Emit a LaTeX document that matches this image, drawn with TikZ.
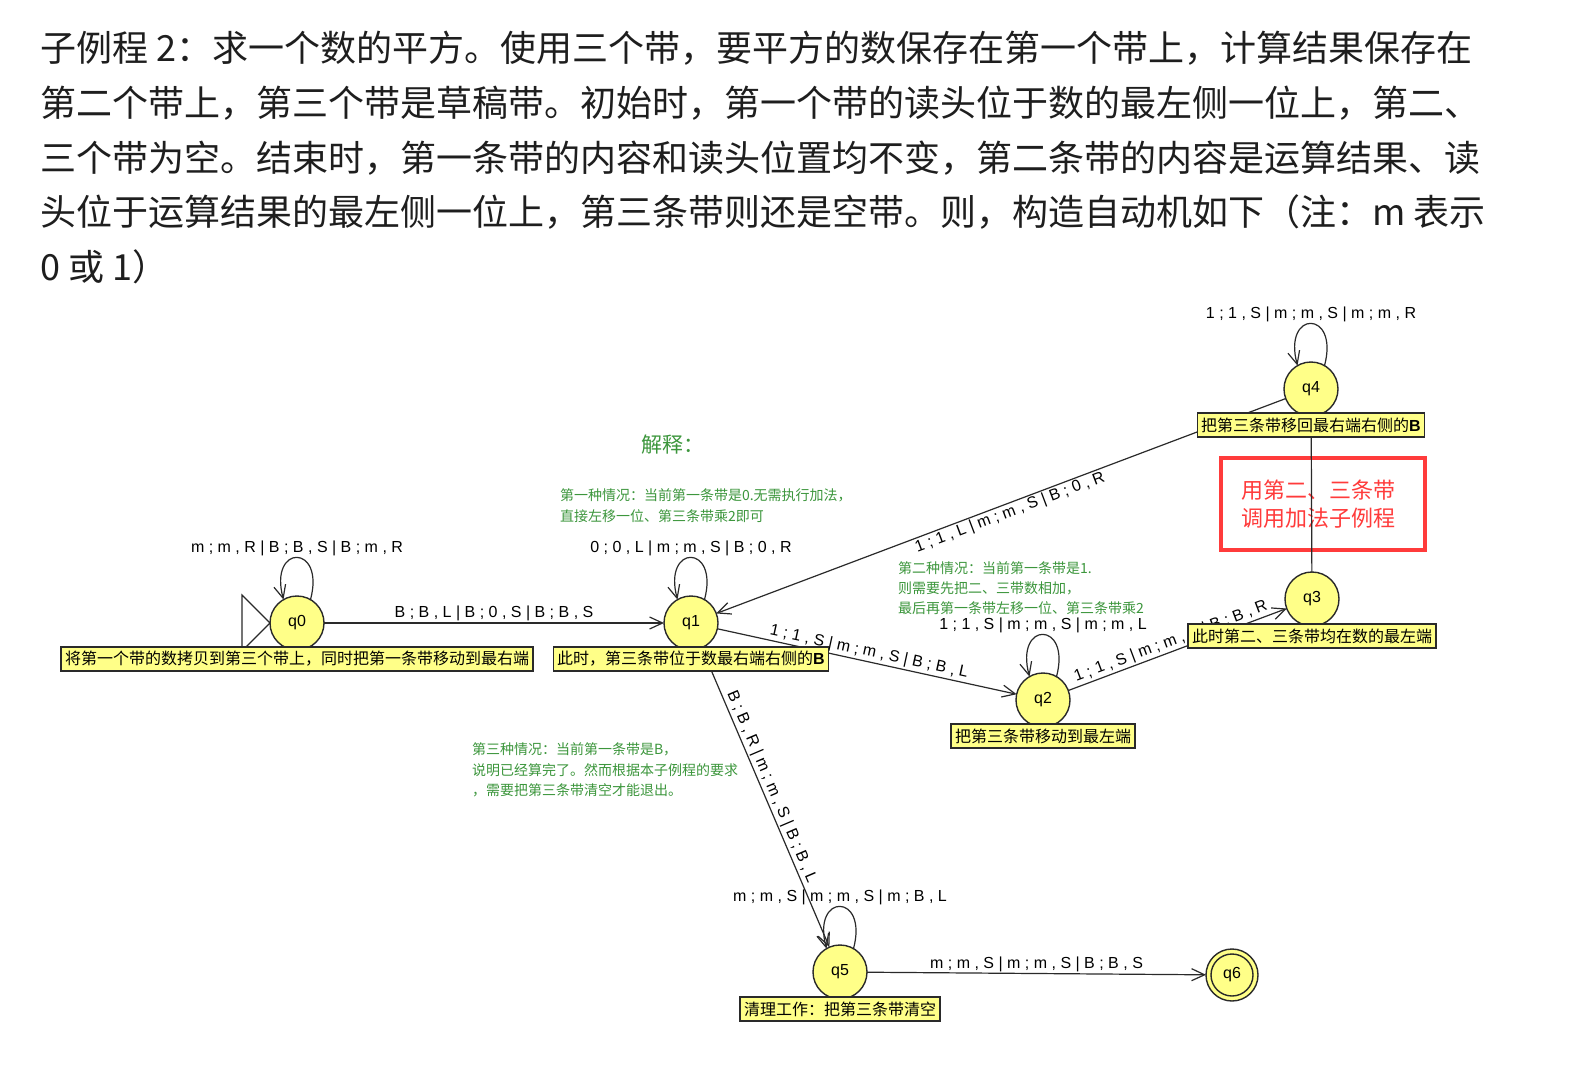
\documentclass[tikz,border=0pt]{standalone}
\usepackage{fontspec}
\usetikzlibrary{arrows.meta}
\setmainfont{Noto Sans CJK SC}
\newfontfamily\lat{Liberation Sans}
\definecolor{statefill}{HTML}{FFFF88}
\definecolor{edgecol}{HTML}{2A2A2A}
\definecolor{notegreen}{HTML}{3C963C}
\definecolor{alertred}{HTML}{FF3B3B}
\definecolor{bodytext}{HTML}{1E1E1E}
\newcommand{\fs}[1]{\fontsize{#1}{#1}\selectfont}
\newcommand{\bB}{{\lat\bfseries B}}
\begin{document}
\begin{tikzpicture}[x=1pt,y=-1pt,
  every node/.style={inner sep=0pt, outer sep=0pt},
  state/.style={circle, draw=edgecol, line width=1.4pt, fill=statefill,
    minimum size=54pt, font=\lat\fs{16}},
  tag/.style={draw=edgecol, line width=1.2pt, fill=statefill, inner xsep=4pt,
    minimum height=24pt, font=\fs{16}, anchor=north},
  trans/.style={draw=edgecol, line width=1.2pt,
    -{Straight Barb[length=13pt,width=12pt]}},
  elabel/.style={font=\lat\fs{16}, inner sep=2pt},
  note/.style={font=\fs{14}, text=notegreen, anchor=base west},
  para/.style={font=\fs{36}, text=bodytext, anchor=base west},
]
\useasboundingbox[fill=white] (0,0) rectangle (1573,1073);

% problem statement
\node[para] (p1) at (40,62)    {子例程 2：求一个数的平方。使用三个带，要平方的数保存在第一个带上，计算结果保存在};
\node[para] (p2) at (40,116.5) {第二个带上，第三个带是草稿带。初始时，第一个带的读头位于数的最左侧一位上，第二、};
\node[para] (p3) at (40,171)   {三个带为空。结束时，第一条带的内容和读头位置均不变，第二条带的内容是运算结果、读};
\node[para] (p4) at (40,225.5) {头位于运算结果的最左侧一位上，第三条带则还是空带。则，构造自动机如下（注：m 表示};
\node[para] (p5) at (40,280)   {0 或 1）};

% explanations
\node[font=\fs{21}, text=notegreen, anchor=west] (expl) at (641,445) {解释：};
\node[note] (c1a) at (560,500) {第一种情况：当前第一条带是0.无需执行加法，};
\node[note] (c1b) at (560,521) {直接左移一位、第三条带乘2即可};
\node[note] (c2a) at (898,573) {第二种情况：当前第一条带是1.};
\node[note] (c2b) at (898,593) {则需要先把二、三带数相加，};
\node[note] (c2c) at (898,613) {最后再第一条带左移一位、第三条带乘2};
\node[note] (c3a) at (472,754) {第三种情况：当前第一条带是B，};
\node[note] (c3b) at (472,775) {说明已经算完了。然而根据本子例程的要求};
\node[note] (c3c) at (472,795) {，需要把第三条带清空才能退出。};

% call of the addition routine
\draw[alertred, line width=4.5pt] (1221,458) rectangle (1425,550);
\node[font=\fontsize{22}{28}\selectfont, text=alertred, align=center] (addnote) at (1318,504)
  {用第二、三条带\\调用加法子例程};

% states
\node[state] (q0) at (297,623) {q0};
\node[state] (q1) at (691,623) {q1};
\node[state] (q2) at (1043,700) {q2};
\node[state] (q3) at (1312,599) {q3};
\node[state] (q4) at (1311,389) {q4};
\node[state] (q5) at (840,972) {q5};
\node[state, minimum size=52pt] (q6) at (1232,975) {q6};
\draw[edgecol, line width=1.4pt] (q6.center) circle (21pt);

% start marker
\draw[edgecol, line width=1.2pt] (242,595) -- (q0.west) -- (242,651) -- cycle;

% transitions
\draw[trans] (q0) -- node[elabel, above, pos=0.5] (e01) {B ; B , L | B ; 0 , S | B ; B , S} (q1);
\draw[trans] (q4) -- node[elabel, below, sloped, pos=0.49] (e41) {1 ; 1 , L | m ; m , S | B ; 0 , R} (q1);
\draw[trans] (q1) -- node[elabel, above, sloped, pos=0.5] (e12) {1 ; 1 , S | m ; m , S | B ; B , L} (q2);
\draw[trans] (q2) -- node[elabel, above, sloped, pos=0.485] (e23) {1 ; 1 , S | m ; m , S | B ; B , R} (q3);
\draw[trans] (q3) -- (q4);
\draw[trans] (q1) -- node[elabel, above, sloped, pos=0.478] (e15) {B ; B , R | m ; m , S | B ; B , L} (q5);
\draw[trans] (q5) -- node[elabel, above, pos=0.5] (e56) {m ; m , S | m ; m , S | B ; B , S} (q6);

% self loops
\foreach \q/\txt in {q0/{m ; m , R | B ; B , S | B ; m , R},
                     q1/{0 ; 0 , L | m ; m , S | B ; 0 , R},
                     q2/{1 ; 1 , S | m ; m , S | m ; m , L},
                     q4/{1 ; 1 , S | m ; m , S | m ; m , R},
                     q5/{m ; m , S | m ; m , S | m ; B , L}} {
  \draw[trans] (\q.60) .. controls +(75:58pt) and +(105:58pt) .. (\q.120);
  \node[elabel] (loop-\q) at ([yshift=75pt]\q.center) {\txt};
}

% state descriptions
\node[tag] (t0) at ([yshift=-24pt]q0.center) {将第一个带的数拷贝到第三个带上，同时把第一条带移动到最右端};
\node[tag] (t1) at ([yshift=-24pt]q1.center) {此时，第三条带位于数最右端右侧的\bB};
\node[tag] (t2) at ([yshift=-24pt]q2.center) {把第三条带移动到最左端};
\node[tag] (t3) at ([yshift=-25pt]q3.center) {此时第二、三条带均在数的最左端};
\node[tag] (t4) at ([yshift=-24pt]q4.center) {把第三条带移回最右端右侧的\bB};
\node[tag] (t5) at ([yshift=-25pt]q5.center) {清理工作：把第三条带清空};
\end{tikzpicture}
\end{document}
